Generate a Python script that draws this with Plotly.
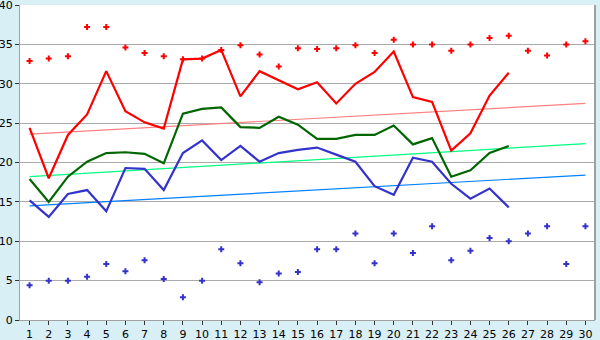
import plotly.graph_objects as go

days = list(range(1, 31))
line_days = list(range(1, 27))

red_markers = [32.9, 33.2, 33.5, 37.2, 37.2, 34.6, 33.9, 33.5, 33.1, 33.2,
               34.3, 34.9, 33.7, 32.2, 34.5, 34.4, 34.5, 34.9, 33.9, 35.6,
               35.0, 35.0, 34.2, 35.0, 35.8, 36.1, 34.2, 33.6, 35.0, 35.4]
red_line = [24.4, 18.0, 23.5, 26.1, 31.6, 26.5, 25.1, 24.3, 33.1, 33.2,
            34.3, 28.4, 31.6, 30.5, 29.3, 30.2, 27.5, 30.0, 31.5, 34.1,
            28.3, 27.7, 21.5, 23.7, 28.5, 31.4]
green_line = [17.9, 15.0, 18.2, 20.1, 21.2, 21.3, 21.1, 19.9, 26.2, 26.8,
              27.0, 24.5, 24.4, 25.8, 24.8, 23.0, 23.0, 23.5, 23.5, 24.7,
              22.3, 23.1, 18.2, 19.0, 21.2, 22.1]
blue_line = [15.2, 13.1, 16.0, 16.5, 13.8, 19.3, 19.2, 16.5, 21.2, 22.8,
             20.3, 22.1, 20.1, 21.2, 21.6, 21.9, 21.0, 20.1, 17.0, 15.9,
             20.6, 20.1, 17.3, 15.4, 16.7, 14.3]
blue_markers = [4.4, 5.0, 5.0, 5.5, 7.1, 6.2, 7.6, 5.2, 2.9, 5.0,
                9.0, 7.2, 4.8, 5.9, 6.1, 9.0, 9.0, 11.0, 7.2, 11.0,
                8.5, 11.9, 7.6, 8.8, 10.4, 10.0, 11.0, 11.9, 7.1, 11.9]
trend_days = [1, 30]
red_trend = [23.6, 27.5]
green_trend = [18.2, 22.4]
blue_trend = [14.5, 18.4]

fig = go.Figure()

fig.add_trace(go.Scatter(x=trend_days, y=red_trend, mode="lines",
                         line=dict(color="#ff8080", width=1.2)))
fig.add_trace(go.Scatter(x=trend_days, y=green_trend, mode="lines",
                         line=dict(color="#00ff80", width=1.2)))
fig.add_trace(go.Scatter(x=trend_days, y=blue_trend, mode="lines",
                         line=dict(color="#0080ff", width=1.2)))

fig.add_trace(go.Scatter(x=line_days, y=red_line, mode="lines",
                         line=dict(color="#ff0000", width=2.2)))
fig.add_trace(go.Scatter(x=line_days, y=green_line, mode="lines",
                         line=dict(color="#006600", width=2.2)))
fig.add_trace(go.Scatter(x=line_days, y=blue_line, mode="lines",
                         line=dict(color="#3333cc", width=2.2)))

fig.add_trace(go.Scatter(x=days, y=red_markers, mode="markers",
                         marker=dict(symbol="cross", size=5, color="#ff0000",
                                     line=dict(width=0))))
fig.add_trace(go.Scatter(x=days, y=blue_markers, mode="markers",
                         marker=dict(symbol="cross", size=5, color="#3333cc",
                                     line=dict(width=0))))

fig.update_layout(
    width=600, height=340,
    margin=dict(l=20, r=5, t=5, b=20, autoexpand=False),
    paper_bgcolor="#d9eff6",
    plot_bgcolor="#ffffff",
    showlegend=False,
    font=dict(family="DejaVu Sans", size=11, color="#000000"),
)
fig.update_xaxes(
    range=[0.5, 30.5], tickvals=days, ticktext=[str(d) for d in days],
    showgrid=False, zeroline=False, automargin=False,
    showline=True, linecolor="#a0a0a0", linewidth=1,
    ticks="outside", ticklen=4, tickcolor="#333333", tickwidth=1,
    tickfont=dict(family="DejaVu Sans", size=11),
    ticklabeloverflow="allow",
)
fig.update_yaxes(
    range=[0, 40], dtick=5, automargin=False,
    showgrid=True, gridcolor="#aaaaaa", gridwidth=1, zeroline=False,
    showline=True, linecolor="#a0a0a0", linewidth=1,
    ticks="outside", ticklen=4, tickcolor="#333333", tickwidth=1,
    tickfont=dict(family="DejaVu Sans", size=11),
    ticklabeloverflow="allow",
)
fig.add_shape(type="line", xref="paper", yref="paper", x0=1, x1=1, y0=0, y1=1,
              line=dict(color="#a0a0a0", width=2))

fig.write_html("out.html")
